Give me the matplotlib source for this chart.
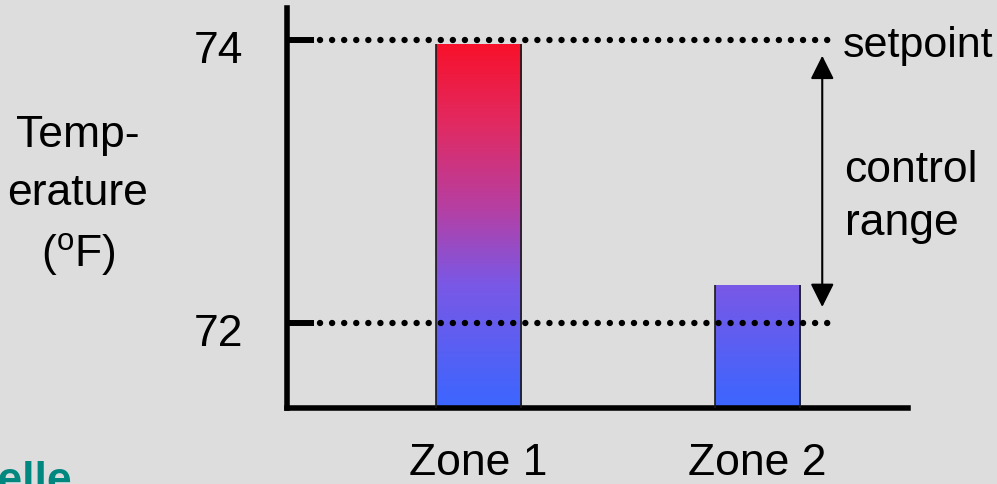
import matplotlib.pyplot as plt
import numpy as np
from matplotlib.colors import LinearSegmentedColormap, Normalize
from matplotlib.transforms import ScaledTranslation

zones = ['Zone 1', 'Zone 2']
temps = [73.97, 72.27]
setpoint = 74
low_limit = 72
y_ticks = [72, 74]

plt.rcParams['font.family'] = ['Liberation Sans', 'DejaVu Sans']
plt.rcParams['mathtext.fontset'] = 'custom'
plt.rcParams['mathtext.rm'] = 'Liberation Sans'

bg = '#dddddd'
fs = 32
ymin, ymax = 71.408, 74.222

fig = plt.figure(figsize=(9.97, 4.85), dpi=100, facecolor=bg)
ax = fig.add_axes([0.2879, 0.1577, 0.6228, 0.8237])
ax.set_facecolor(bg)

# colour follows the temperature: blue when cool, red at the setpoint
cmap = LinearSegmentedColormap.from_list('temp', [
    (0.0, '#3b66ff'), (0.34, '#7a58e6'), (0.55, '#b63fa2'),
    (0.78, '#e12a62'), (1.0, '#f8112b')])
norm = Normalize(ymin, max(temps))
grad = np.linspace(ymin, max(temps), 256).reshape(-1, 1)

x = np.arange(len(zones))
bars = ax.bar(x, np.array(temps) - ymin, bottom=ymin, width=0.305,
              facecolor='none', edgecolor='none')
for b in bars:
    x0, x1 = b.get_x(), b.get_x() + b.get_width()
    im = ax.imshow(grad, cmap=cmap, norm=norm, origin='lower', aspect='auto',
                   extent=[x0, x1, ymin, max(temps)], zorder=2)
    im.set_clip_path(b)
    ax.vlines([x0, x1], ymin, b.get_y() + b.get_height(), color='#1a1a1a', lw=1.2, zorder=3)

# setpoint and lower limit, round dots
dots = dict(color='k', lw=4.6, linestyle=(0, (0.01, 1.88)), dash_capstyle='round', zorder=4)
ax.plot([-0.5685, 1.26], [setpoint, setpoint], **dots)
ax.plot([-0.5685, 1.285], [low_limit, low_limit], **dots)

ax.annotate('', xy=(1.233, 73.886), xytext=(1.233, 72.116),
            arrowprops=dict(arrowstyle='<|-|>', mutation_scale=36, lw=1.5,
                            color='k', shrinkA=0, shrinkB=0))
ax.text(1.307, 73.886, 'setpoint', fontsize=31, va='baseline', ha='left')
ax.text(1.313, 73.006, 'control', fontsize=fs, va='baseline', ha='left')
ax.text(1.313, 72.63, 'range', fontsize=fs, va='baseline', ha='left')

ax.set_xlim(-0.687, 1.5405)
ax.set_ylim(ymin, ymax)

for side in ['top', 'right']:
    ax.spines[side].set_visible(False)
for side in ['left', 'bottom']:
    ax.spines[side].set_linewidth(4)

ax.set_yticks(y_ticks, [str(t) for t in y_ticks])
ax.tick_params(axis='y', direction='in', length=19.5, width=4.3, labelsize=fs, pad=31.7)
for lab in ax.get_yticklabels():
    lab.set_transform(lab.get_transform() + ScaledTranslation(0, -6 / 100, fig.dpi_scale_trans))
ax.set_xticks(x, zones)
ax.tick_params(axis='x', length=0, labelsize=fs, pad=25)

# axis title, one word split over lines
fig.text(78 / 997, 1 - 146.7 / 485, 'Temp-', fontsize=fs, ha='center', va='baseline')
fig.text(78 / 997, 1 - 205 / 485, 'erature', fontsize=fs, ha='center', va='baseline')
fig.text(78 / 997, 1 - 266.7 / 485, r'($^{\rm o}$F)', fontsize=fs, ha='center', va='baseline')

fig.text(72 / 997, -8 / 485, 'Battelle', ha='right', va='baseline', color='#00877f',
         fontsize=32, fontweight='bold')

fig.savefig('out.png', dpi=100, facecolor=bg)
